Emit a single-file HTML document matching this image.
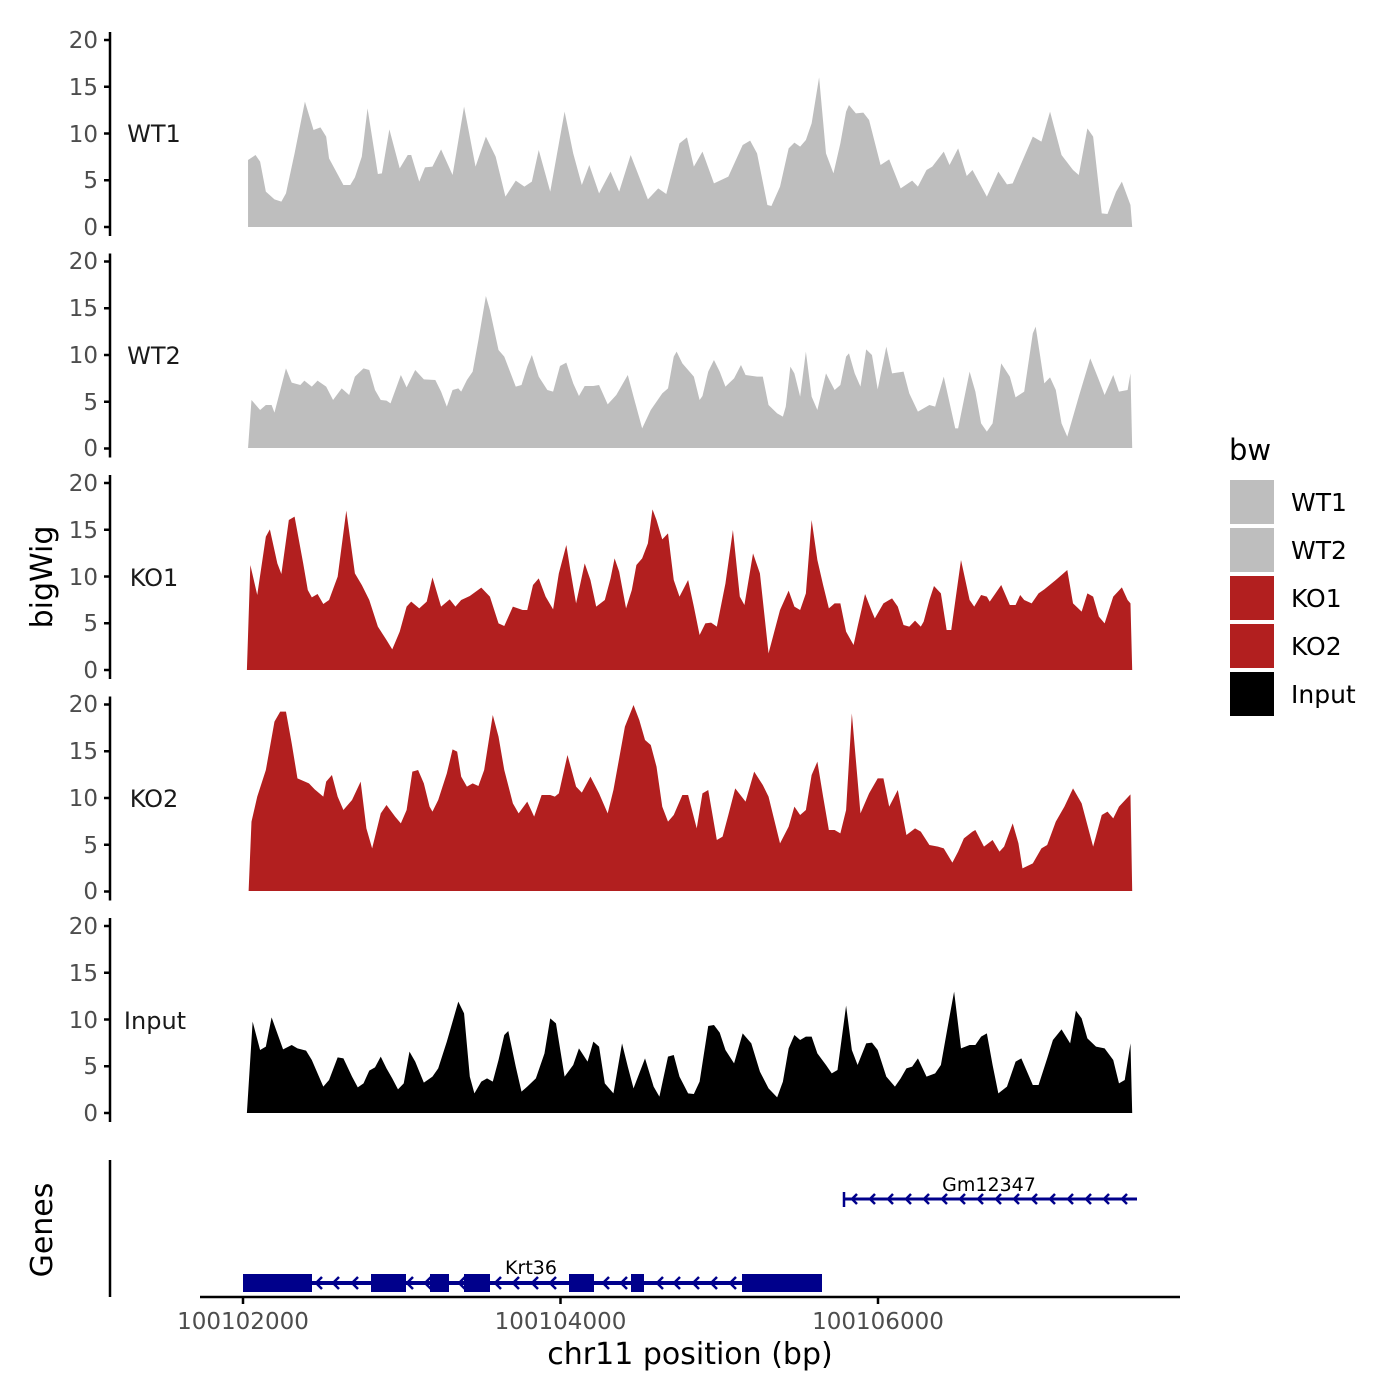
<!DOCTYPE html>
<html><head><meta charset="utf-8"><style>
body{margin:0;background:#fff}
svg{display:block;font-family:"DejaVu Sans","Liberation Sans",sans-serif}
.t{fill:#4d4d4d;font-size:23px;text-anchor:end}
.p{fill:#1a1a1a;font-size:24px;text-anchor:middle}
</style></head><body>
<svg width="1400" height="1400" viewBox="0 0 1400 1400" xmlns="http://www.w3.org/2000/svg">
<rect width="1400" height="1400" fill="#fff"/>
<g id="ax" stroke="#000" stroke-width="2.5" fill="none">
<path d="M110 32V236M104 40H110M104 86.75H110M104 133.5H110M104 180.25H110M104 227H110"/>
<path d="M110 253.5V457.5M104 261.5H110M104 308.25H110M104 355H110M104 401.75H110M104 448.5H110"/>
<path d="M110 475V679M104 483H110M104 529.75H110M104 576.5H110M104 623.25H110M104 670H110"/>
<path d="M110 696.5V900.5M104 704.5H110M104 751.25H110M104 798H110M104 844.75H110M104 891.5H110"/>
<path d="M110 918V1122M104 926H110M104 972.75H110M104 1019.5H110M104 1066.25H110M104 1113H110"/>
<path d="M110 1160V1297M200 1297H1180M243 1297V1304M560.5 1297V1304M878 1297V1304"/>
</g>
<g class="t">
<text x="98" y="48">20</text><text x="98" y="95">15</text><text x="98" y="142">10</text><text x="98" y="188">5</text><text x="98" y="235">0</text>
<text x="98" y="269">20</text><text x="98" y="316">15</text><text x="98" y="363">10</text><text x="98" y="410">5</text><text x="98" y="456">0</text>
<text x="98" y="491">20</text><text x="98" y="538">15</text><text x="98" y="585">10</text><text x="98" y="631">5</text><text x="98" y="678">0</text>
<text x="98" y="712">20</text><text x="98" y="759">15</text><text x="98" y="806">10</text><text x="98" y="853">5</text><text x="98" y="899">0</text>
<text x="98" y="934">20</text><text x="98" y="981">15</text><text x="98" y="1028">10</text><text x="98" y="1074">5</text><text x="98" y="1121">0</text>
</g>
<g class="t" style="text-anchor:middle">
<text x="243" y="1329">100102000</text><text x="560.5" y="1329">100104000</text><text x="878" y="1329">100106000</text>
</g>
<g class="p">
<text x="154" y="142">WT1</text><text x="154" y="364">WT2</text><text x="154" y="586">KO1</text><text x="154" y="807">KO2</text><text x="155" y="1029">Input</text>
</g>
<text x="690" y="1364" font-size="30" text-anchor="middle" fill="#000">chr11 position (bp)</text>
<text transform="translate(52,577) rotate(-90)" font-size="30" text-anchor="middle" fill="#000">bigWig</text>
<text transform="translate(52,1230) rotate(-90)" font-size="30" text-anchor="middle" fill="#000">Genes</text>

<polygon fill="#bebebe" transform="translate(240,70) scale(0.5745,0.3333)" points="14,471 14,270 27,255 35,275 45,365 60,388 72,395 80,370 95,250 113,95 128,180 140,172 150,200 155,265 180,345 192,345 200,322 212,260 222,115 240,312 247,310 260,178 278,295 292,255 298,255 312,335 322,292 335,290 350,238 370,315 390,110 410,290 428,200 445,260 462,380 480,332 495,350 508,335 520,240 540,365 565,125 580,250 595,345 608,285 625,370 645,305 660,365 680,255 710,388 728,355 742,372 765,220 778,202 790,290 805,245 825,340 850,320 875,225 888,212 900,250 918,405 925,408 940,350 955,235 965,218 975,230 985,210 995,160 1008,22 1020,250 1033,310 1045,220 1055,125 1060,105 1072,130 1085,128 1095,150 1115,285 1130,268 1150,355 1170,332 1180,350 1195,300 1205,290 1225,245 1235,285 1250,235 1265,318 1275,300 1300,380 1320,305 1335,343 1345,340 1365,260 1380,200 1395,215 1410,125 1430,255 1450,300 1460,315 1475,175 1485,200 1500,430 1510,432 1525,365 1535,335 1550,405 1553,471"/>
<polygon fill="#bebebe" transform="translate(240,290) scale(0.5745,0.3333)" points="14,474 20,330 35,360 45,345 55,345 60,368 80,235 90,278 105,285 112,272 125,290 135,272 150,290 162,330 177,295 190,315 200,260 215,235 225,240 235,300 245,330 255,332 262,340 280,255 290,292 305,240 320,268 340,270 350,305 360,350 370,300 380,295 385,305 395,270 405,245 415,150 428,18 435,60 450,180 460,200 470,245 480,290 490,285 500,230 508,195 520,260 535,300 545,305 557,228 568,218 580,280 590,318 600,288 615,288 625,285 640,343 655,315 675,255 685,320 700,415 715,360 735,310 745,295 755,200 760,185 770,220 790,260 800,330 805,318 815,245 825,210 835,245 845,290 860,265 872,225 880,255 900,260 910,260 920,345 935,370 945,380 950,350 958,230 965,250 975,320 985,185 995,320 1005,360 1020,250 1035,300 1045,285 1055,200 1060,190 1070,250 1080,290 1090,178 1100,195 1110,298 1125,170 1135,250 1155,245 1165,310 1180,365 1200,345 1210,350 1225,260 1245,415 1250,415 1270,245 1280,305 1290,400 1300,425 1310,400 1325,220 1340,260 1350,322 1365,305 1380,130 1385,110 1400,280 1410,262 1420,300 1430,400 1440,440 1460,320 1480,205 1495,270 1505,315 1520,255 1530,305 1545,300 1550,250 1553,474"/>
<polygon fill="#b21f1f" transform="translate(240,500) scale(0.5745,0.3333)" points="12,510 18,195 30,285 45,110 52,88 65,190 72,222 85,60 95,50 110,190 118,270 125,292 135,282 145,312 155,300 170,230 185,32 200,220 212,255 225,300 240,380 255,420 265,448 278,395 290,320 298,305 312,325 325,305 335,232 350,320 365,298 375,320 385,300 400,288 420,263 435,290 450,370 460,378 475,320 492,330 500,330 510,255 520,235 532,290 545,328 555,220 568,135 575,210 585,310 600,190 610,240 620,320 635,300 645,235 652,175 660,215 672,325 682,270 690,195 700,175 710,130 718,28 725,60 735,118 745,100 755,240 765,290 780,240 790,320 800,405 810,370 820,368 830,380 845,250 858,90 870,290 878,315 893,160 905,220 920,460 930,395 940,330 955,272 965,320 975,330 985,280 995,60 1005,180 1015,255 1025,325 1035,310 1045,310 1055,395 1068,435 1075,380 1088,282 1100,335 1105,355 1120,310 1135,295 1145,320 1155,375 1165,380 1175,362 1185,380 1190,365 1200,300 1208,258 1220,280 1230,390 1238,390 1255,180 1270,300 1278,320 1290,285 1300,290 1305,305 1315,280 1325,255 1340,315 1350,315 1358,285 1365,300 1378,310 1390,280 1400,268 1420,240 1440,210 1450,310 1465,335 1475,280 1485,290 1495,350 1505,370 1520,290 1535,262 1545,300 1550,310 1553,510"/>
<polygon fill="#b21f1f" transform="translate(240,700) scale(0.5745,0.3333)" points="15,573 20,365 30,290 45,210 60,65 70,35 80,35 90,130 100,235 120,250 130,268 145,290 150,245 160,225 170,290 180,330 195,300 210,245 220,385 230,445 245,340 255,315 270,350 280,370 290,330 300,215 310,210 320,250 330,320 335,335 345,300 360,220 370,148 378,155 385,230 395,260 405,250 415,258 425,210 440,45 450,110 460,210 475,310 485,340 500,305 512,350 525,285 540,285 548,290 555,280 570,165 585,260 595,278 610,230 625,280 640,340 650,270 670,80 685,15 695,60 705,120 715,135 725,200 735,320 745,365 755,345 770,285 780,285 795,385 805,280 815,270 830,420 840,410 850,345 862,265 880,305 895,215 910,255 920,290 940,430 955,380 965,320 975,345 985,330 995,225 1005,185 1015,290 1025,390 1035,390 1045,400 1055,330 1065,40 1080,340 1095,280 1110,235 1120,235 1130,320 1145,270 1160,405 1175,385 1185,395 1200,435 1215,440 1225,445 1240,488 1250,455 1260,415 1275,395 1280,390 1295,440 1310,420 1322,455 1330,440 1345,370 1355,430 1362,505 1380,490 1395,445 1405,435 1420,365 1435,320 1450,265 1465,310 1485,440 1500,345 1510,335 1520,355 1530,320 1550,283 1553,573"/>
<polygon fill="#000" transform="translate(240,990) scale(0.5745,0.3333)" points="12,369 22,95 35,180 45,170 55,82 65,130 75,178 90,165 100,175 115,182 125,210 145,290 155,270 170,202 180,205 195,260 205,292 215,280 225,242 235,232 245,200 255,235 265,265 275,298 285,280 295,185 305,215 320,278 335,260 345,235 360,155 380,35 390,70 400,260 408,310 420,275 430,265 440,275 450,210 460,135 467,123 480,230 490,305 500,290 515,265 530,190 540,85 550,100 565,260 580,225 590,175 605,215 615,155 625,170 635,280 650,310 665,160 675,230 685,295 705,205 720,290 730,320 745,200 755,195 765,260 780,310 790,312 800,275 815,108 825,105 835,128 845,180 860,220 875,130 890,160 905,245 920,295 935,322 945,275 955,175 965,135 975,150 985,140 995,140 1005,190 1020,225 1030,250 1040,240 1055,47 1065,180 1075,225 1090,160 1100,158 1110,180 1125,260 1140,290 1150,265 1160,235 1170,230 1180,205 1195,260 1210,250 1220,225 1235,80 1243,5 1255,175 1270,165 1280,165 1290,140 1300,130 1310,225 1320,310 1335,290 1350,215 1360,205 1380,285 1390,285 1405,205 1415,150 1430,118 1445,160 1455,62 1465,85 1475,145 1490,170 1505,175 1520,210 1530,280 1540,270 1550,160 1553,369"/>

<g fill="#00008b" stroke="none">
<rect x="243" y="1281" width="579" height="4"/>
<rect x="243" y="1274" width="69" height="18"/>
<rect x="371" y="1274" width="35" height="18"/>
<rect x="430" y="1274" width="19" height="18"/>
<rect x="464" y="1274" width="26" height="18"/>
<rect x="569" y="1274" width="25" height="18"/>
<rect x="631" y="1274" width="13" height="18"/>
<rect x="742" y="1274" width="80" height="18"/>
<rect x="843" y="1197.5" width="294" height="3"/>
</g>
<g stroke="#00008b" stroke-width="2.5" fill="none">
<path d="M322 1277L316 1283L322 1289M339 1277L333 1283L339 1289M358 1277L352 1283L358 1289M413 1277L407 1283L413 1289M431 1277L425 1283L431 1289M465 1277L459 1283L465 1289M501 1277L495 1283L501 1289M519 1277L513 1283L519 1289M538 1277L532 1283L538 1289M556 1277L550 1283L556 1289M609 1277L603 1283L609 1289M627 1277L621 1283L627 1289M663 1277L657 1283L663 1289M680 1277L674 1283L680 1289M699 1277L693 1283L699 1289M717 1277L711 1283L717 1289M736 1277L730 1283L736 1289"/>
<path d="M844 1192V1207M857 1194L852 1199L857 1204M875 1194L870 1199L875 1204M893 1194L888 1199L893 1204M911 1194L906 1199L911 1204M929 1194L924 1199L929 1204M947 1194L942 1199L947 1204M965 1194L960 1199L965 1204M983 1194L978 1199L983 1204M1001 1194L996 1199L1001 1204M1019 1194L1014 1199L1019 1204M1037 1194L1032 1199L1037 1204M1055 1194L1050 1199L1055 1204M1073 1194L1068 1199L1073 1204M1091 1194L1086 1199L1091 1204M1109 1194L1104 1199L1109 1204M1127 1194L1122 1199L1127 1204"/>
</g>
<text x="531" y="1274" font-size="19" text-anchor="middle" fill="#000">Krt36</text>
<text x="989" y="1191" font-size="19" text-anchor="middle" fill="#000">Gm12347</text>

<text x="1229" y="460" font-size="29" fill="#000">bw</text>
<rect x="1230" y="480" width="44" height="44" fill="#bebebe"/>
<rect x="1230" y="528" width="44" height="44" fill="#bebebe"/>
<rect x="1230" y="576" width="44" height="44" fill="#b21f1f"/>
<rect x="1230" y="624" width="44" height="44" fill="#b21f1f"/>
<rect x="1230" y="672" width="44" height="44" fill="#000"/>
<g font-size="25" fill="#000">
<text x="1291" y="511">WT1</text><text x="1291" y="559">WT2</text><text x="1291" y="607">KO1</text><text x="1291" y="655">KO2</text><text x="1291" y="703">Input</text>
</g>
</svg>
</body></html>
